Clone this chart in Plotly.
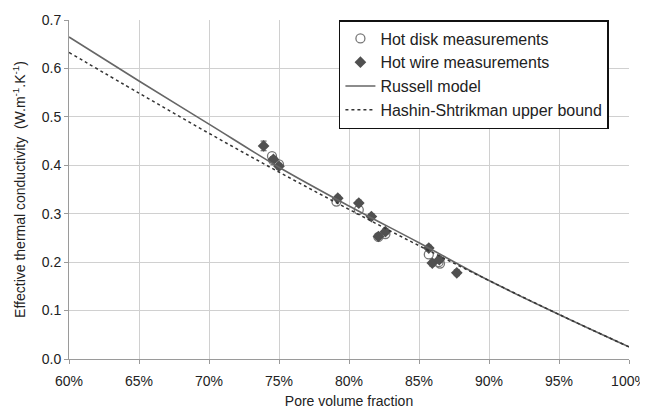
import plotly.graph_objects as go

# Data
disk_x = [74.5, 74.6, 75.0, 79.1, 80.7, 82.1, 82.6, 85.7, 86.4, 86.5]
disk_y = [0.419, 0.410, 0.402, 0.325, 0.308, 0.252, 0.258, 0.216, 0.200, 0.197]

wire_x = [73.9, 74.6, 75.0, 79.2, 80.7, 81.6, 82.1, 82.6, 85.7, 85.95, 86.45, 87.7]
wire_y = [0.440, 0.412, 0.398, 0.332, 0.322, 0.294, 0.253, 0.263, 0.229, 0.198, 0.205, 0.178]
wire_err = [0.010, 0.006, 0.006, 0.006, 0.006, 0.006, 0.006, 0.006, 0.006, 0.006, 0.006, 0.006]

model_x = [60, 65, 70, 75, 80, 85, 90, 95, 100]
russell_y = [0.665, 0.574, 0.485, 0.396, 0.316, 0.240, 0.162, 0.092, 0.025]
hs_y = [0.633, 0.549, 0.466, 0.386, 0.309, 0.234, 0.162, 0.092, 0.025]

x_ticks = [60, 65, 70, 75, 80, 85, 90, 95, 100]
x_ticklabels = ["60%", "65%", "70%", "75%", "80%", "85%", "90%", "95%", "100%"]
y_ticks = [0.0, 0.1, 0.2, 0.3, 0.4, 0.5, 0.6, 0.7]

fig = go.Figure()
fig.add_trace(go.Scatter(
    x=disk_x, y=disk_y, mode="markers", name="Hot disk measurements",
    marker=dict(symbol="circle-open", size=9, color="#777777", line=dict(width=1.3, color="#777777")),
))
fig.add_trace(go.Scatter(
    x=wire_x, y=wire_y, mode="markers", name="Hot wire measurements",
    marker=dict(symbol="diamond", size=9, color="#505050"),
    error_y=dict(type="data", array=wire_err, color="#505050", thickness=1, width=3),
))
fig.add_trace(go.Scatter(
    x=model_x, y=russell_y, mode="lines", name="Russell model",
    line=dict(color="#666666", width=1.6, shape="spline"),
))
fig.add_trace(go.Scatter(
    x=model_x, y=hs_y, mode="lines", name="Hashin-Shtrikman upper bound",
    line=dict(color="#333333", width=1.5, dash="dot", shape="spline"),
))

fig.update_layout(
    width=640, height=404,
    margin=dict(l=61, r=19, t=12, b=53),
    paper_bgcolor="white", plot_bgcolor="white",
    font=dict(family="Liberation Sans, Arial, sans-serif", size=14, color="#222222"),
    showlegend=True,
    legend=dict(
        x=0.482, y=1.0, xanchor="left", yanchor="top",
        bgcolor="white", bordercolor="#111111", borderwidth=1.5,
        font=dict(size=16, color="#222222"),
        tracegroupgap=0, itemwidth=30,
    ),
    xaxis=dict(
        range=[60, 100], tickvals=x_ticks, ticktext=x_ticklabels,
        showgrid=True, gridcolor="#d0d0d0", gridwidth=1,
        showline=True, linecolor="#9a9a9a", linewidth=1,
        ticks="outside", ticklen=4, tickcolor="#9a9a9a", ticklabelstandoff=5,
        title=dict(text="Pore volume fraction", font=dict(size=14), standoff=8),
        zeroline=False, tickfont=dict(size=14), automargin=False,
    ),
    yaxis=dict(
        range=[0, 0.7], tickvals=y_ticks, tickformat=".1f",
        showgrid=True, gridcolor="#d0d0d0", gridwidth=1,
        showline=True, linecolor="#9a9a9a", linewidth=1,
        ticks="outside", ticklen=4, tickcolor="#9a9a9a",
        title=dict(text="Effective thermal conductivity  (W.m<sup>-1</sup>.K<sup>-1</sup>)", font=dict(size=14), standoff=12),
        zeroline=False, tickfont=dict(size=14), automargin=False,
    ),
)

fig.write_html("out.html")
